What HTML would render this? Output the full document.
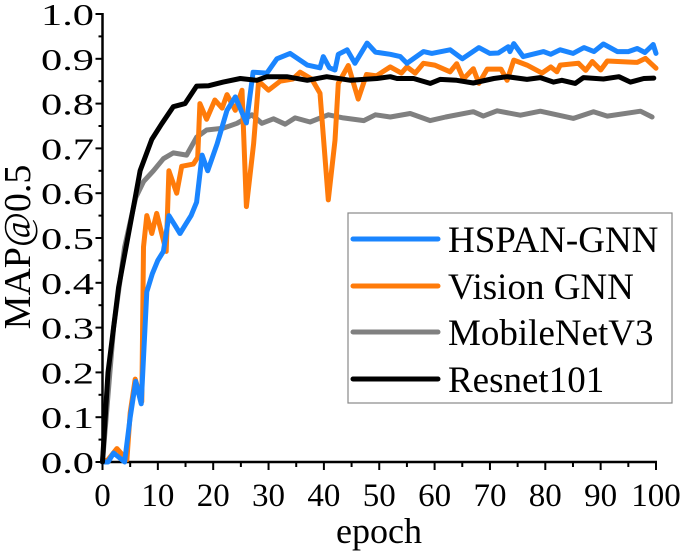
<!DOCTYPE html>
<html><head><meta charset="utf-8"><style>
html,body{margin:0;padding:0;background:#fff;}
svg{display:block;}
svg text{font-family:"Liberation Serif","DejaVu Serif","Noto Serif CJK SC",serif !important;}
</style></head><body>
<svg id="chart" width="685" height="555" viewBox="0 0 685 555" xmlns="http://www.w3.org/2000/svg">
<g id="axes"></g>
<g id="series"></g>
<g id="legend">
  <rect x="348" y="213" width="324" height="190" fill="#fff" stroke="#888" stroke-width="1.2"/>
  <line x1="353" y1="239" x2="438" y2="239" stroke="#1a85ff" stroke-width="5" stroke-linecap="round"/>
  <text x="448" y="252" font-size="37" font-family="Liberation Serif">HSPAN-GNN</text>
  <line x1="353" y1="286" x2="438" y2="286" stroke="#ff7b0a" stroke-width="5" stroke-linecap="round"/>
  <text x="448" y="299" font-size="37" font-family="Liberation Serif">Vision GNN</text>
  <line x1="353" y1="332" x2="438" y2="332" stroke="#808080" stroke-width="5" stroke-linecap="round"/>
  <text x="448" y="345" font-size="37" font-family="Liberation Serif">MobileNetV3</text>
  <line x1="353" y1="379" x2="438" y2="379" stroke="#000" stroke-width="5" stroke-linecap="round"/>
  <text x="448" y="392" font-size="37" font-family="Liberation Serif">Resnet101</text>
</g>
</svg>
<script>
const xTicks = [0,10,20,30,40,50,60,70,80,90,100];
const yTicks = ["0.0","0.1","0.2","0.3","0.4","0.5","0.6","0.7","0.8","0.9","1.0"];
const hspanEpochs = [0,1,2,3,4,5,6,7,8,9,10,11,12,13,14,15,16,17,18,19,20.7,22.5,24,26,27.2,29.7,31.5,33.9,37,39.3,39.9,41,42,42.6,44.2,45.6,47.8,49.3,52,53.8,55,58,59.5,62.8,65,68,70,71.5,73.3,73.6,74.3,76,79.7,81,82.7,85,87,88.8,90.5,93,95,96.6,98,99.5,100];
const hspanValues = [0,0,0.02,0.01,0,0.1,0.18,0.13,0.38,0.42,0.45,0.47,0.55,0.53,0.51,0.53,0.55,0.58,0.685,0.65,0.71,0.785,0.815,0.757,0.87,0.868,0.9,0.912,0.886,0.88,0.905,0.88,0.875,0.91,0.92,0.89,0.935,0.915,0.91,0.905,0.89,0.916,0.912,0.92,0.9,0.925,0.912,0.913,0.927,0.916,0.934,0.905,0.916,0.91,0.92,0.912,0.925,0.916,0.933,0.916,0.916,0.923,0.914,0.932,0.912];
const visionEpochs = [0,1,2.6,4.4,5,5.9,7.1,7.4,8,8.9,9.8,10.7,11.5,12,13.4,14.3,16.4,17.2,17.6,18.8,20.3,21.6,22.5,24,25.2,26,27.3,28.2,30,32.1,34.4,35.7,37.8,39.3,40.8,42,42.6,44.4,46.2,47.7,49.5,52,54,55,56.5,58,60,62.8,64,65.2,67,68,69.5,72,73.1,74.3,76.7,79.4,81,82.1,82.7,86,87.3,88.5,90,91.2,96.6,98.1,100];
const visionValues = [0,0.005,0.03,0.005,0.11,0.185,0.135,0.48,0.55,0.51,0.555,0.51,0.47,0.65,0.6,0.66,0.665,0.68,0.8,0.765,0.808,0.79,0.82,0.785,0.83,0.57,0.71,0.85,0.83,0.85,0.855,0.87,0.855,0.823,0.585,0.718,0.845,0.885,0.81,0.865,0.862,0.882,0.868,0.882,0.868,0.89,0.886,0.871,0.889,0.855,0.878,0.845,0.877,0.877,0.852,0.897,0.886,0.868,0.882,0.871,0.886,0.89,0.874,0.894,0.875,0.895,0.892,0.901,0.879];
const mobileEpochs = [0,2,4,6,7.4,9.2,11,12.8,15.2,17,18.8,21.8,24.3,27,28.8,30.9,33,34.8,37.5,40.8,43.5,47.2,49.3,52,55.6,59.2,62,67,68.8,71.3,75.5,79.1,85.1,88.7,91.2,97.2,99.3];
const mobileValues = [0,0.3,0.48,0.59,0.626,0.65,0.677,0.69,0.685,0.725,0.741,0.745,0.756,0.775,0.756,0.766,0.754,0.768,0.759,0.775,0.768,0.762,0.775,0.77,0.778,0.762,0.77,0.782,0.772,0.784,0.774,0.783,0.767,0.782,0.772,0.783,0.77];
const resnetEpochs = [0,1,2.9,4.4,5.9,6.8,8.9,10.7,12.8,14.9,17,19.2,21.8,24.9,27.9,29.7,33.3,37,40.5,44.8,49.6,52,53.2,56.2,59.2,61,64,67,70.7,73.1,76.7,79.1,81.5,83,85.4,86.9,90.5,93.3,95.4,97.8,99.6];
const resnetValues = [0,0.2,0.39,0.49,0.59,0.65,0.72,0.755,0.793,0.8,0.839,0.84,0.848,0.856,0.852,0.86,0.86,0.852,0.86,0.852,0.856,0.86,0.856,0.856,0.845,0.854,0.852,0.846,0.856,0.86,0.854,0.858,0.848,0.852,0.845,0.858,0.855,0.86,0.848,0.856,0.857];

const NS = "http://www.w3.org/2000/svg";
const X0 = 102.5, X1 = 656, Y0 = 462, Y1 = 14;
function xs(v){ return X0 + (v/100)*(X1-X0); }
function ys(v){ return Y0 - v*(Y0-Y1); }
function mk(tag, attrs, parent){ const e=document.createElementNS(NS,tag); for(const k in attrs) e.setAttribute(k,attrs[k]); parent.appendChild(e); return e; }

const axes = document.getElementById('axes');
let el;
el = mk('line',{x1:X0,y1:Y0,x2:X0,y2:Y1-1,stroke:'#000','stroke-width':2.5},axes);


el = mk('line',{x1:X0-1,y1:Y0,x2:X1+1,y2:Y0,stroke:'#000','stroke-width':2.5},axes);


for(let i=0;i<=20;i++){
  const v=i*0.05, len = i%2===0?7:4;
  el = mk('line',{x1:X0-len,y1:ys(v),x2:X0,y2:ys(v),stroke:'#000','stroke-width':2},axes);
  
  
}
yTicks.forEach(function(t){
  el = mk('text',{x:94,y:ys(parseFloat(t))+11,'text-anchor':'end','font-size':31,'font-family':'Liberation Serif',textLength:53,lengthAdjust:'spacingAndGlyphs'},axes);
  el.textContent=t;
  
  
});
for(let i=0;i<=20;i++){
  const v=i*5, len = i%2===0?8:5;
  el = mk('line',{x1:xs(v),y1:Y0,x2:xs(v),y2:Y0+len,stroke:'#000','stroke-width':2},axes);
  
  
}
xTicks.forEach(function(t){
  el = mk('text',{x:xs(t),y:506,'text-anchor':'middle','font-size':33,'font-family':'Liberation Serif'},axes);
  el.textContent=String(t);
  
  
});
el = mk('text',{x:379,y:543,'text-anchor':'middle','font-size':36,'font-family':'Liberation Serif'},axes);
el.textContent='epoch';


el = mk('text',{x:0,y:0,'text-anchor':'middle','font-size':38,'font-family':'Liberation Serif',transform:'translate(30,247) rotate(-90)'},axes);
el.textContent='MAP@0.5';



const sg = document.getElementById('series');
function drawLine(ex, vals, color, name){
  const pts = ex.map(function(e,i){ return xs(e).toFixed(1)+','+ys(vals[i]).toFixed(1); }).join(' ');
  const p = mk('polyline',{points:pts,fill:'none',stroke:color,'stroke-width':5,'stroke-linejoin':'round','stroke-linecap':'round'},sg);
  
  
}
drawLine(mobileEpochs, mobileValues, '#808080', 'line-mobilenetv3');
drawLine(visionEpochs, visionValues, '#ff7b0a', 'line-vision-gnn');
drawLine(hspanEpochs, hspanValues, '#1a85ff', 'line-hspan-gnn');
drawLine(resnetEpochs, resnetValues, '#000000', 'line-resnet101');
</script>
</body></html>
